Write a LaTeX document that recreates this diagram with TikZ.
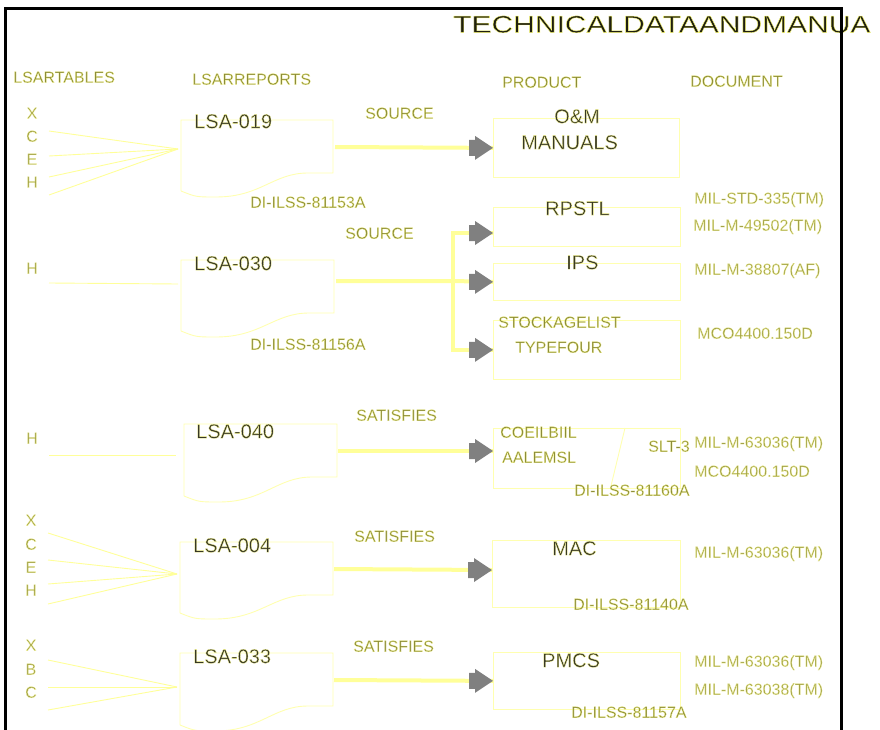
\documentclass[tikz,border=0pt]{standalone}
\usepackage{fontspec}
\setmainfont{Liberation Sans}
\newfontfamily\halofont[FakeBold=1.5]{Liberation Sans}
\usetikzlibrary{calc}
\definecolor{lyel}{HTML}{FFFF99}
\definecolor{lyelb}{HTML}{FFFFB0}
\definecolor{agray}{HTML}{808080}
\tikzset{
  lbl/.style={anchor=west,inner sep=0pt,text height=11.5pt,text depth=0pt,
    font=\halofont\fontsize{16}{18}\selectfont,
    execute at begin node={\special{pdf:bcolor [0.55 0.55 0.22] [1 1 0.6]}},
    execute at end node={\special{pdf:ecolor}}},
  big/.style={lbl,text height=14.3pt,font=\halofont\fontsize{20}{22}\selectfont,
    execute at begin node={\special{pdf:bcolor [0.22 0.22 0.14] [1 1 0.6]}}},
  ttl/.style={lbl,text height=17.2pt,font=\halofont\fontsize{24}{26}\selectfont,
    execute at begin node={\special{pdf:bcolor [0.12 0.12 0.06] [1 1 0.45]}}},
  doclbl/.style={lbl,execute at begin node={\special{pdf:bcolor [0.64 0.64 0.28] [1 1 0.7]}}},
  letter/.style={doclbl,anchor=center},
  thin/.style={draw=lyel,line width=0.9pt},
  docln/.style={draw=lyelb,line width=0.9pt},
  pbox/.style={draw=lyelb,line width=0.8pt,inner sep=0pt,anchor=north west},
  feed/.style={draw=lyel,line width=4pt,line join=miter},
}
\newcommand\lsadoc[5]{%
  \draw[docln] (#1,#5) -- (#1,#2) -- (#3,#2) -- (#3,#4) -- ({#3-25},#4)
    .. controls ({#3-60},#4) and ({#1+80},{#5+6}) .. ({#1+35},{#5+6})
    .. controls ({#1+15},{#5+6}) .. (#1,#5);}
\newcommand\garrow[1]{%
  \fill[agray] ($(#1)+(-24,-8)$) -- ($(#1)+(-18,-8)$) -- ($(#1)+(-18,-12)$) -- (#1)
    -- ($(#1)+(-18,12)$) -- ($(#1)+(-18,8)$) -- ($(#1)+(-24,8)$) -- cycle;}
\begin{document}
\begin{tikzpicture}[x=1pt,y=-1pt]
\useasboundingbox (0,0) rectangle (880,730);
\fill[white] (0,0) rectangle (880,730);

% title
\node[ttl] (title) at (453,24) {\scalebox{1.25}[1]{TECHNICALDATAANDMANUA}};

% headers
\node[lbl] (hA) at (13,77) {LSARTABLES};
\node[lbl] (hB) at (192,79) {LSARREPORTS};
\node[lbl] (hC) at (502,82) {PRODUCT};
\node[lbl] (hD) at (690,81) {DOCUMENT};

% ===== group 1 =====
\node[letter] (g1x) at (32,113) {X};
\node[letter] (g1c) at (32,136) {C};
\node[letter] (g1e) at (32,159) {E};
\node[letter] (g1h) at (32,182) {H};
\coordinate (s1a) at (49,131);
\coordinate (s1b) at (49,156);
\coordinate (s1c) at (49,177);
\coordinate (s1d) at (49,195);
\coordinate (r1in) at (178,149);
\coordinate (r1out) at (335,147);
\lsadoc{181}{120}{333}{173}{191}
\foreach \s in {s1a,s1b,s1c,s1d} \draw[thin] (\s) -- (r1in);
\node[big] (r1) at (194,121) {LSA-019};
\node[lbl] (d1) at (250,202) {DI-ILSS-81153A};
\node[lbl] (c1) at (365,113) {SOURCE};
\node[pbox,minimum width=186pt,minimum height=59pt] (om) at (493,118) {};
\node[big,anchor=center] (omA) at (577,116) {O\&M};
\node[big] (omB) at (521,142) {MANUALS};
\draw[feed] (r1out) -- (om.west);
\garrow{om.west}

% ===== group 2 =====
\node[letter] (g2h) at (32,268) {H};
\coordinate (s2a) at (49,283);
\coordinate (r2in) at (178,284);
\coordinate (r2out) at (336,281);
\coordinate (j2) at (453,281);
\lsadoc{181}{260}{334}{313}{331}
\draw[thin] (s2a) -- (r2in);
\node[big] (r2) at (194,263) {LSA-030};
\node[lbl] (d2) at (250,344) {DI-ILSS-81156A};
\node[lbl] (c2) at (345,233) {SOURCE};
\node[pbox,minimum width=187pt,minimum height=39pt] (rp) at (493,207) {};
\node[pbox,minimum width=187pt,minimum height=37pt] (ips) at (493,263) {};
\node[pbox,minimum width=187pt,minimum height=59pt] (stk) at (493,320) {};
\coordinate (rpin) at ($(rp.north west)+(0,26)$);
\node[big] (rpA) at (545,208) {RPSTL};
\node[big] (ipsA) at (566,262) {IPS};
\node[lbl] (stkA) at (498,322) {STOCKAGELIST};
\node[lbl] (stkB) at (515,347) {TYPEFOUR};
\draw[feed] (r2out) -- (j2) -- (ips.west);
\draw[feed] (j2) |- (rpin);
\draw[feed] (j2) |- (stk.west);
\garrow{rpin}
\garrow{ips.west}
\garrow{stk.west}
\node[doclbl] (m21) at (694,198) {MIL-STD-335(TM)};
\node[doclbl] (m22) at (693,225) {MIL-M-49502(TM)};
\node[doclbl] (m23) at (694,269) {MIL-M-38807(AF)};
\node[doclbl] (m24) at (697,333) {MCO4400.150D};

% ===== group 3 =====
\node[letter] (g3h) at (32,438) {H};
\coordinate (s3a) at (49,455);
\coordinate (r3in) at (176,455);
\coordinate (r3out) at (338,451);
\lsadoc{184}{424}{337}{477}{496}
\draw[thin] (s3a) -- (r3in);
\node[big] (r3) at (196,431) {LSA-040};
\node[lbl] (c3) at (356,415) {SATISFIES};
\node[pbox,minimum width=187pt,minimum height=60pt] (b3) at (493,428) {};
\coordinate (b3in) at ($(b3.north west)+(0,23)$);
\draw[thin,draw=lyelb] ($(b3.north west)+(132,0)$) coordinate (b3d1) -- ($(b3.south west)+(118,-3)$) coordinate (b3d2);
\node[lbl] (b3A) at (500,432) {COEILBIIL};
\node[lbl] (b3B) at (502,457) {AALEMSL};
\node[lbl] (b3C) at (648,446) {SLT-3};
\node[lbl] (b3D) at (574,490) {DI-ILSS-81160A};
\draw[feed] (r3out) -- (b3in);
\garrow{b3in}
\node[doclbl] (m31) at (694,442) {MIL-M-63036(TM)};
\node[doclbl] (m32) at (694,471) {MCO4400.150D};

% ===== group 4 =====
\node[letter] (g4x) at (31,520) {X};
\node[letter] (g4c) at (31,544) {C};
\node[letter] (g4e) at (31,567) {E};
\node[letter] (g4h) at (31,590) {H};
\coordinate (s4a) at (48,533);
\coordinate (s4b) at (48,560);
\coordinate (s4c) at (48,584);
\coordinate (s4d) at (48,604);
\coordinate (r4in) at (177,574);
\coordinate (r4out) at (334,569);
\lsadoc{180}{542}{333}{595}{613}
\foreach \s in {s4a,s4b,s4c,s4d} \draw[thin] (\s) -- (r4in);
\node[big] (r4) at (193,545) {LSA-004};
\node[lbl] (c4) at (354,536) {SATISFIES};
\node[pbox,minimum width=188pt,minimum height=67pt] (mac) at (492,540) {};
\coordinate (macin) at ($(mac.north west)+(0,30)$);
\node[big] (macA) at (552,548) {MAC};
\node[lbl] (macB) at (573,604) {DI-ILSS-81140A};
\draw[feed] (r4out) -- (macin);
\garrow{macin}
\node[doclbl] (m41) at (694,552) {MIL-M-63036(TM)};

% ===== group 5 =====
\node[letter] (g5x) at (31,645) {X};
\node[letter] (g5b) at (31,669) {B};
\node[letter] (g5c) at (31,692) {C};
\coordinate (s5a) at (48,660);
\coordinate (s5b) at (48,687);
\coordinate (s5c) at (48,710);
\coordinate (r5in) at (177,687);
\coordinate (r5out) at (334,680);
\lsadoc{180}{653}{333}{706}{725}
\foreach \s in {s5a,s5b,s5c} \draw[thin] (\s) -- (r5in);
\node[big] (r5) at (193,656) {LSA-033};
\node[lbl] (c5) at (353,646) {SATISFIES};
\node[pbox,minimum width=187pt,minimum height=57pt] (pm) at (493,652) {};
\node[big] (pmA) at (542,660) {PMCS};
\node[lbl] (pmB) at (571,712) {DI-ILSS-81157A};
\draw[feed] (r5out) -- (pm.west);
\garrow{pm.west}
\node[doclbl] (m51) at (694,661) {MIL-M-63036(TM)};
\node[doclbl] (m52) at (694,689) {MIL-M-63038(TM)};

% frame
\draw[black,line width=3pt] (5.5,780) -- (5.5,8.7) -- (841.3,8.7) -- (841.3,780);
\end{tikzpicture}
\end{document}
